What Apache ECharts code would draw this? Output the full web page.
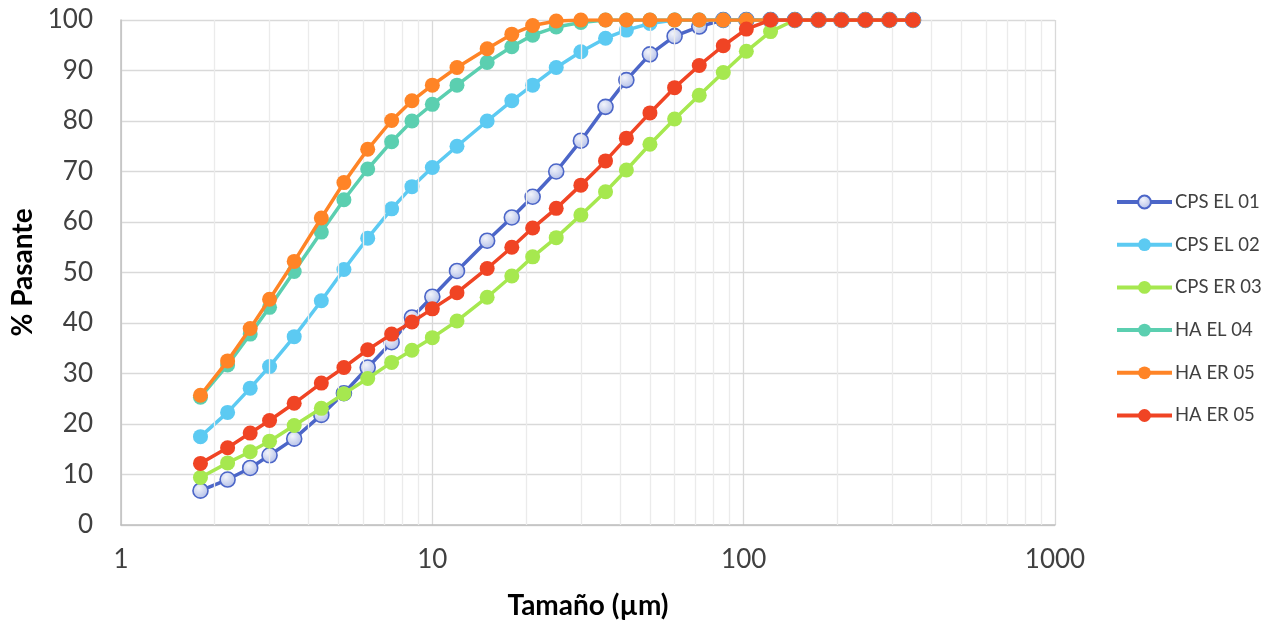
<!DOCTYPE html>
<html>
<head>
<meta charset="utf-8">
<script src="https://cdn.jsdelivr.net/npm/echarts@6/dist/echarts.min.js"></script>
<style>html,body{margin:0;padding:0;background:#fff}#c{width:1272px;height:626px}</style>
</head>
<body>
<div id="c"></div>
<script>
// Particle sizes (µm)
const sizes = [1.8, 2.2, 2.6, 3.0, 3.6, 4.4, 5.2, 6.2, 7.4, 8.6, 10, 12, 15, 18, 21, 25, 30, 36, 42, 50, 60, 72, 86, 102, 122, 146, 174, 206, 246, 294, 350];

const cpsEl01 = [6.8, 9.0, 11.3, 13.8, 17.1, 21.8, 26.1, 31.2, 36.2, 41.1, 45.2, 50.3, 56.3, 60.9, 65.0, 70.0, 76.1, 82.8, 88.1, 93.2, 96.8, 98.7, 100, 100, 100, 100, 100, 100, 100, 100, 100];
const cpsEl02 = [17.5, 22.3, 27.1, 31.4, 37.3, 44.4, 50.6, 56.8, 62.6, 67.0, 70.8, 75.0, 80.0, 84.0, 87.1, 90.6, 93.7, 96.4, 98.0, 99.3, 100, 100, 100, 100, 100, 100, 100, 100, 100, 100, 100];
const cpsEr03 = [9.4, 12.3, 14.5, 16.6, 19.7, 23.1, 26.0, 29.0, 32.2, 34.6, 37.1, 40.4, 45.1, 49.3, 53.1, 56.9, 61.4, 66.0, 70.3, 75.4, 80.4, 85.1, 89.6, 93.8, 97.7, 100, 100, 100, 100, 100, 100];
const haEl04 = [25.3, 31.7, 37.8, 43.1, 50.2, 58.0, 64.4, 70.5, 75.9, 80.0, 83.3, 87.1, 91.6, 94.7, 97.0, 98.6, 99.5, 100, 100, 100, 100, 100, 100, 100, 100, 100, 100, 100, 100, 100, 100];
const haEr05a = [25.7, 32.5, 38.9, 44.7, 52.2, 60.8, 67.8, 74.4, 80.1, 84.0, 87.1, 90.6, 94.3, 97.2, 98.9, 99.8, 100, 100, 100, 100, 100, 100, 100, 100, 100, 100, 100, 100, 100, 100, 100];
const haEr05b = [12.2, 15.3, 18.2, 20.7, 24.1, 28.1, 31.2, 34.7, 37.8, 40.2, 42.8, 46.0, 50.8, 55.0, 58.8, 62.7, 67.3, 72.1, 76.6, 81.6, 86.6, 91.0, 94.9, 98.2, 100, 100, 100, 100, 100, 100, 100];

const seriesNames = ['CPS EL 01', 'CPS EL 02', 'CPS ER 03', 'HA EL 04', 'HA ER 05', 'HA ER 05 '];
const minorTicks = [2, 3, 4, 5, 6, 7, 8, 9, 20, 30, 40, 50, 60, 70, 80, 90, 200, 300, 400, 500, 600, 700, 800, 900];
const xTickLabels = { 1: '1', 10: '10', 100: '100', 1000: '1000' };
const yTicks = [0, 10, 20, 30, 40, 50, 60, 70, 80, 90, 100];

const FONT = 'Lato';
const colors = ['#4C66C8', '#5CCAF2', '#A6E84F', '#5BCFB0', '#FF8426', '#F04424'];
const values = [cpsEl01, cpsEl02, cpsEr03, haEl04, haEr05a, haEr05b];

function pairs(arr) { return sizes.map((s, i) => [s, arr[i]]); }

const series = [{
  type: 'line', name: '_grid', data: [], silent: true, z: 1,
  markLine: {
    silent: true, symbol: 'none', animation: false,
    label: { show: false },
    lineStyle: { color: '#EBEBEB', type: 'solid', width: 1.3 },
    data: minorTicks.map(v => ({ xAxis: v }))
  }
}];
values.forEach((arr, i) => {
  const hollow = i === 0;
  series.push({
    type: 'line', name: seriesNames[i], data: pairs(arr),
    symbol: 'circle', symbolSize: 15, z: 3 + i,
    lineStyle: { color: colors[i], width: 3.5 },
    itemStyle: hollow ? {
      color: { type: 'radial', x: 0.4, y: 0.35, r: 0.7, colorStops: [{ offset: 0, color: '#F2F4FB' }, { offset: 1, color: '#AEBBE6' }] },
      borderColor: colors[i], borderWidth: 1.6
    } : { color: colors[i], borderWidth: 0 },
    emphasis: { disabled: true },
    animation: false
  });
});

const chart = echarts.init(document.getElementById('c'));
chart.setOption({
  backgroundColor: '#fff',
  animation: false,
  grid: { left: 121, right: 217, top: 20, bottom: 101, containLabel: false },
  legend: {
    orient: 'vertical', left: 1110, top: 187,
    data: seriesNames,
    itemWidth: 55, itemHeight: 16, itemGap: 22.7,
    lineStyle: { width: 4 },
    formatter: n => n.trim(),
    textStyle: { fontFamily: FONT, fontSize: 18.5, color: '#404040', lineHeight: 20, padding: [0, 0, 0, -2] },
    selectedMode: false
  },
  xAxis: {
    type: 'log', logBase: 10, min: 1, max: 1000,
    name: 'Tamaño (µm)', nameLocation: 'middle', nameGap: 67,
    nameTextStyle: { fontFamily: FONT, fontSize: 28, fontWeight: 'bold', color: '#000' },
    axisLine: { show: true, lineStyle: { color: '#BFBFBF', width: 1.5 } },
    axisTick: { show: false },
    axisLabel: { fontFamily: FONT, fontSize: 26, color: '#404040', margin: 22,
      formatter: v => xTickLabels[Math.round(v)] || '' },
    splitLine: { show: true, lineStyle: { color: '#D9D9D9', width: 1.3 } },
    minorTick: { show: false }, minorSplitLine: { show: false }
  },
  yAxis: {
    type: 'value', min: 0, max: 100, interval: 10,
    name: '% Pasante', nameLocation: 'middle', nameGap: 77,
    nameTextStyle: { fontFamily: FONT, fontSize: 28, fontWeight: 'bold', color: '#000' },
    axisLine: { show: true, lineStyle: { color: '#BFBFBF', width: 1.5 } },
    axisTick: { show: false },
    axisLabel: { fontFamily: FONT, fontSize: 26, color: '#404040', margin: 28,
      formatter: v => (yTicks.indexOf(v) >= 0 ? String(v) : '') },
    splitLine: { show: true, lineStyle: { color: '#D9D9D9', width: 1.3 } }
  },
  series: series
});
</script>
</body>
</html>
